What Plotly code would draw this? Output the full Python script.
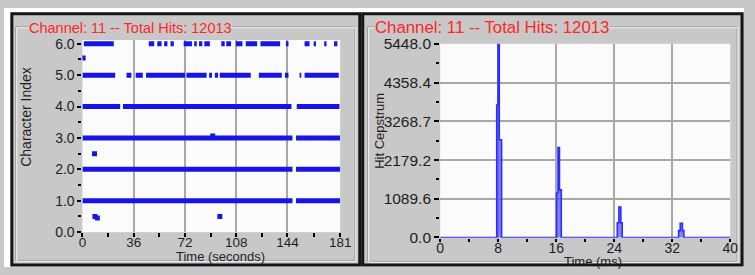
import plotly.graph_objects as go

W, H = 755, 275

# ---------------- data: left chart (character index vs time) ----------------
level6_segments = [(1, 22), (46.6, 50.4), (52.6, 55.6), (57.4, 59.7), (61.9, 64.2),
                   (71.1, 76.9), (78.5, 80.3), (81.9, 84.2), (85.6, 89.5), (97.5, 99.9),
                   (101, 104.4), (107.8, 112.4), (114.7, 122.7), (125, 138.8),
                   (142.9, 144.7), (156, 159.5), (162.4, 164), (169.8, 171.4), (176.7, 179)]
level5_segments = [(0, 23), (31, 34.4), (37.4, 42.4), (44.7, 72), (73, 87.2), (89, 91),
                   (93, 95.2), (96.4, 118.2), (123.9, 140), (142.2, 144.7),
                   (152.5, 153.7), (156, 180)]
level4_segments = [(0, 26.5), (28.5, 146.8), (150.5, 180.5)]
level3_segments = [(0, 147.5), (150, 181)]
level2_segments = [(0, 147.5), (150, 181)]
level1_segments = [(0, 147.5), (150, 181)]
stray_times = [0.5, 8.5, 8.8, 10.5, 91.5, 96.5]
stray_index = [5.55, 2.5, 0.5, 0.45, 3.06, 0.5]
left_xticks = [0, 36, 72, 108, 144, 181]
left_xminor = [18, 54, 90, 126, 162.5]
left_yticks = [0, 1, 2, 3, 4, 5, 6]
left_yminor = [0.5, 1.5, 2.5, 3.5, 4.5, 5.5]

# ---------------- data: right chart (hit cepstrum vs time) ----------------
cep_time = [0, 7.8, 7.98, 8.15, 8.47, 16.05, 16.25, 16.45, 16.7,
            24.42, 24.64, 24.91, 25.1, 32.88, 33.1, 33.4, 33.6, 40]
cep_value = [0, 3730, 5448, 2750, 0, 1250, 2530, 1340, 0,
             415, 855, 415, 0, 193, 397, 193, 0, 0]
right_xticks = [0, 8, 16, 24, 32, 40]
right_xminor = [4, 12, 20, 28, 36]
right_yticks = [0.0, 1089.6, 2179.2, 3268.7, 4358.4, 5448.0]
right_ytext = ["0.0", "1089.6", "2179.2", "3268.7", "4358.4", "5448.0"]
right_yminor = [544.8, 1634.4, 2724.0, 3813.6, 4903.2]

title_text = "Channel: 11 -- Total Hits: 12013"

# ---------------- helpers ----------------
def px(x):
    return x / W

def py(y):
    return 1 - y / H

def seg_xy(segs, level):
    xs, ys = [], []
    for a, b in segs:
        xs += [a, b, None]
        ys += [level, level, None]
    return xs, ys

BLUE = "#1515e8"
GRAY = "#c8c8c8"
GRID = "#a8a8a8"
FONT = "Liberation Sans, Arial, sans-serif"
TICKC = "#1e1e1e"

fig = go.Figure()

for segs, lvl in [(level1_segments, 1), (level2_segments, 2), (level3_segments, 3),
                  (level4_segments, 4), (level5_segments, 5), (level6_segments, 6)]:
    xs, ys = seg_xy(segs, lvl)
    fig.add_trace(go.Scatter(x=xs, y=ys, mode="lines", line=dict(color=BLUE, width=5),
                             xaxis="x", yaxis="y", showlegend=False, hoverinfo="skip"))
fig.add_trace(go.Scatter(x=stray_times, y=stray_index, mode="markers",
                         marker=dict(color=BLUE, size=5, symbol="square"),
                         xaxis="x", yaxis="y", showlegend=False))

fig.add_trace(go.Scatter(x=cep_time, y=cep_value, mode="lines", line_shape="hv",
                         line=dict(color="#2d2dff", width=1.6), fill="tozeroy",
                         fillcolor="rgba(80,80,255,0.7)",
                         xaxis="x2", yaxis="y2", showlegend=False))

tickfont_l = dict(family=FONT, size=13.5, color=TICKC)
tickfont_ly = dict(family=FONT, size=14, color=TICKC)
tickfont_r = dict(family=FONT, size=14, color=TICKC)
tickfont_ry = dict(family=FONT, size=15.5, color=TICKC)

fig.update_layout(
    width=W, height=H,
    margin=dict(l=0, r=0, t=0, b=0),
    paper_bgcolor=GRAY,
    plot_bgcolor="#fbfbfb",
    xaxis=dict(domain=[px(80), px(343)], range=[0, 181], tickvals=left_xticks,
               ticks="", tickfont=tickfont_l, showgrid=True, gridcolor=GRID, gridwidth=2,
               zeroline=False, showline=False, anchor="y",
               minor=dict(tickvals=left_xticks + left_xminor, ticks="outside", ticklen=3.5,
                          tickwidth=1.5, tickcolor="#000", showgrid=False)),
    yaxis=dict(domain=[py(238), py(34)], range=[0, 6.12], tickvals=left_yticks,
               tickformat=".1f", ticks="outside", ticklen=4, tickwidth=1.5,
               tickcolor="#000", tickfont=tickfont_ly, showgrid=False,
               zeroline=False, showline=False, anchor="x",
               minor=dict(tickvals=left_yminor, ticks="outside", ticklen=3,
                          tickcolor="#000", showgrid=False)),
    xaxis2=dict(domain=[px(445), px(741)], range=[0, 40], tickvals=right_xticks,
                ticks="", tickfont=tickfont_r, showgrid=True, gridcolor=GRID, gridwidth=2,
                zeroline=False, showline=False, anchor="y2",
                minor=dict(tickvals=right_xticks + right_xminor, ticks="outside",
                           ticklen=3.5, tickwidth=1.5, tickcolor="#000", showgrid=False)),
    yaxis2=dict(domain=[py(244), py(38)], range=[-10, 5455], tickvals=right_yticks,
                ticktext=right_ytext, ticks="outside", ticklen=5, tickwidth=1.5,
                tickcolor="#000", tickfont=tickfont_ry, showgrid=True, gridcolor=GRID,
                gridwidth=2, zeroline=False, showline=False, anchor="x2",
                minor=dict(tickvals=right_yminor, ticks="outside", ticklen=3,
                           tickcolor="#000", showgrid=False)),
)

shapes = []
# white margins outside the framed panels
shapes.append(dict(type="rect", xref="paper", yref="paper", x0=0, x1=px(7), y0=0, y1=1,
                   fillcolor="white", line=dict(width=0), layer="below"))
shapes.append(dict(type="rect", xref="paper", yref="paper", x0=0, x1=1, y0=py(5), y1=1,
                   fillcolor="white", line=dict(width=0), layer="below"))
shapes.append(dict(type="rect", xref="paper", yref="paper", x0=0, x1=1, y0=0, y1=py(274),
                   fillcolor="white", line=dict(width=0), layer="below"))
# group boxes (etched)
for (x0, x1, y0, y1) in [(12, 358, 20, 268), (371, 748, 20, 269)]:
    shapes.append(dict(type="rect", xref="paper", yref="paper", x0=px(x0), x1=px(x1),
                       y0=py(y1), y1=py(y0), line=dict(color="#9c9c9c", width=1),
                       layer="below"))
    shapes.append(dict(type="rect", xref="paper", yref="paper", x0=px(x0 + 1), x1=px(x1 + 1),
                       y0=py(y1 + 1), y1=py(y0 + 1), line=dict(color="#f2f2f2", width=1),
                       layer="below"))
# black panel frames
for (x0, x1) in [(8, 363), (366, 753)]:
    shapes.append(dict(type="rect", xref="paper", yref="paper", x0=px(x0), x1=px(x1),
                       y0=py(273), y1=py(6), line=dict(color="#151515", width=3),
                       layer="above"))
fig.update_layout(shapes=shapes)

ann = []
ann.append(dict(text=title_text, xref="paper", yref="paper", x=px(24), y=py(21),
                xanchor="left", yanchor="middle", showarrow=False, bgcolor=GRAY,
                font=dict(family=FONT, size=14.5, color="#ff2626"), borderpad=0))
ann.append(dict(text=title_text, xref="paper", yref="paper", x=px(378), y=py(21),
                xanchor="left", yanchor="middle", showarrow=False, bgcolor=GRAY,
                font=dict(family=FONT, size=16.8, color="#ff2626"), borderpad=0))
ann.append(dict(text="Character Index", xref="paper", yref="paper", x=px(23), y=py(116),
                textangle=-90, showarrow=False, xanchor="center", yanchor="middle",
                font=dict(family=FONT, size=14, color=TICKC)))
ann.append(dict(text="Time (seconds)", xref="paper", yref="paper", x=px(221), y=py(263.5),
                showarrow=False, xanchor="center", yanchor="middle",
                font=dict(family=FONT, size=13, color=TICKC)))
ann.append(dict(text="Hit Cepstrum", xref="paper", yref="paper", x=px(383), y=py(130),
                textangle=-90, showarrow=False, xanchor="center", yanchor="middle",
                font=dict(family=FONT, size=13, color=TICKC)))
ann.append(dict(text="Time (ms)", xref="paper", yref="paper", x=px(601), y=py(269),
                showarrow=False, xanchor="center", yanchor="middle",
                font=dict(family=FONT, size=13, color=TICKC), borderpad=0))
fig.update_layout(annotations=ann)

fig.write_html("out.html", config={"displayModeBar": False},
               post_script="document.body.style.margin='0';document.body.style.overflow='hidden';")
